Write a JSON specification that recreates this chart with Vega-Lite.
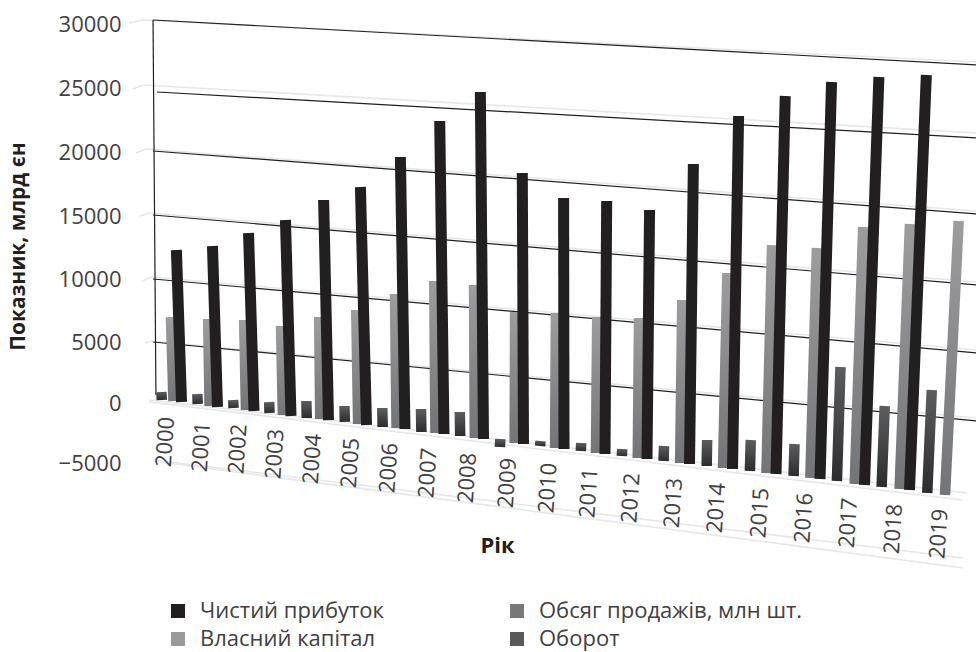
{"$schema":"https://vega.github.io/schema/vega-lite/v6.json","width":976,"height":652,"padding":0,"autosize":{"type":"none"},"background":"white","config":{"view":{"stroke":null},"font":"Open Sans"},
"datasets":{
"bars":[
{"year":2000,"series":"Власний капітал","pos":1999.78,"posEnd":1999.71,"low":165,"high":6984},
{"year":2001,"series":"Власний капітал","pos":2000.78,"posEnd":2000.74,"low":-250,"high":6825},
{"year":2002,"series":"Власний капітал","pos":2001.78,"posEnd":2001.73,"low":-584,"high":6746},
{"year":2003,"series":"Власний капітал","pos":2002.78,"posEnd":2002.73,"low":-1000,"high":6270},
{"year":2004,"series":"Власний капітал","pos":2003.78,"posEnd":2003.75,"low":-1334,"high":6984},
{"year":2005,"series":"Власний капітал","pos":2004.78,"posEnd":2004.73,"low":-1750,"high":7540},
{"year":2006,"series":"Власний капітал","pos":2005.78,"posEnd":2005.74,"low":-2084,"high":8810},
{"year":2007,"series":"Власний капітал","pos":2006.78,"posEnd":2006.75,"low":-2500,"high":9841},
{"year":2008,"series":"Власний капітал","pos":2007.78,"posEnd":2007.76,"low":-2917,"high":9524},
{"year":2009,"series":"Власний капітал","pos":2008.78,"posEnd":2008.79,"low":-3334,"high":7381},
{"year":2010,"series":"Власний капітал","pos":2009.78,"posEnd":2009.80,"low":-3750,"high":7302},
{"year":2011,"series":"Власний капітал","pos":2010.78,"posEnd":2010.81,"low":-4167,"high":6984},
{"year":2012,"series":"Власний капітал","pos":2011.78,"posEnd":2011.81,"low":-4584,"high":6905},
{"year":2013,"series":"Власний капітал","pos":2012.78,"posEnd":2012.83,"low":-5000,"high":8333},
{"year":2014,"series":"Власний капітал","pos":2013.78,"posEnd":2013.88,"low":-5417,"high":10476},
{"year":2015,"series":"Власний капітал","pos":2014.78,"posEnd":2014.91,"low":-5834,"high":12698},
{"year":2016,"series":"Власний капітал","pos":2015.78,"posEnd":2015.93,"low":-6250,"high":12460},
{"year":2017,"series":"Власний капітал","pos":2016.78,"posEnd":2016.97,"low":-6750,"high":14127},
{"year":2018,"series":"Власний капітал","pos":2017.78,"posEnd":2018.01,"low":-7167,"high":14365},
{"year":2019,"series":"Власний капітал","pos":2018.78,"posEnd":2019.08,"low":-7667,"high":14603},
{"year":2000,"series":"Оборот","pos":1999.46,"posEnd":1999.45,"low":246,"high":902},
{"year":2001,"series":"Оборот","pos":2000.45,"posEnd":2000.44,"low":-83,"high":738},
{"year":2002,"series":"Оборот","pos":2001.44,"posEnd":2001.43,"low":-417,"high":246},
{"year":2003,"series":"Оборот","pos":2002.42,"posEnd":2002.41,"low":-833,"high":82},
{"year":2004,"series":"Оборот","pos":2003.42,"posEnd":2003.41,"low":-1250,"high":164},
{"year":2005,"series":"Оборот","pos":2004.43,"posEnd":2004.42,"low":-1583,"high":-250},
{"year":2006,"series":"Оборот","pos":2005.42,"posEnd":2005.41,"low":-2000,"high":-417},
{"year":2007,"series":"Оборот","pos":2006.42,"posEnd":2006.41,"low":-2417,"high":-500},
{"year":2008,"series":"Оборот","pos":2007.41,"posEnd":2007.40,"low":-2750,"high":-750},
{"year":2009,"series":"Оборот","pos":2008.41,"posEnd":2008.42,"low":-3667,"high":-3000},
{"year":2010,"series":"Оборот","pos":2009.41,"posEnd":2009.42,"low":-3583,"high":-3167},
{"year":2011,"series":"Оборот","pos":2010.41,"posEnd":2010.42,"low":-4000,"high":-3333},
{"year":2012,"series":"Оборот","pos":2011.40,"posEnd":2011.41,"low":-4417,"high":-3833},
{"year":2013,"series":"Оборот","pos":2012.39,"posEnd":2012.40,"low":-4833,"high":-3583},
{"year":2014,"series":"Оборот","pos":2013.40,"posEnd":2013.41,"low":-5250,"high":-3083},
{"year":2015,"series":"Оборот","pos":2014.40,"posEnd":2014.42,"low":-5667,"high":-3083},
{"year":2016,"series":"Оборот","pos":2015.40,"posEnd":2015.42,"low":-6083,"high":-3417},
{"year":2017,"series":"Оборот","pos":2016.38,"posEnd":2016.46,"low":-6500,"high":2951},
{"year":2018,"series":"Оборот","pos":2017.38,"posEnd":2017.45,"low":-7000,"high":-250},
{"year":2019,"series":"Оборот","pos":2018.39,"posEnd":2018.49,"low":-7500,"high":1066},
{"year":2000,"series":"Чистий прибуток","pos":2000,"posEnd":1999.86,"low":82,"high":12302},
{"year":2001,"series":"Чистий прибуток","pos":2001,"posEnd":2000.86,"low":-333,"high":12619},
{"year":2002,"series":"Чистий прибуток","pos":2002,"posEnd":2001.85,"low":-667,"high":13651},
{"year":2003,"series":"Чистий прибуток","pos":2003,"posEnd":2002.85,"low":-1083,"high":14683},
{"year":2004,"series":"Чистий прибуток","pos":2004,"posEnd":2003.87,"low":-1417,"high":16250},
{"year":2005,"series":"Чистий прибуток","pos":2005,"posEnd":2004.84,"low":-1833,"high":17266},
{"year":2006,"series":"Чистий прибуток","pos":2006,"posEnd":2005.88,"low":-2167,"high":19609},
{"year":2007,"series":"Чистий прибуток","pos":2007,"posEnd":2006.89,"low":-2583,"high":22422},
{"year":2008,"series":"Чистий прибуток","pos":2008,"posEnd":2007.92,"low":-3000,"high":24688},
{"year":2009,"series":"Чистий прибуток","pos":2009,"posEnd":2008.97,"low":-3417,"high":18359},
{"year":2010,"series":"Чистий прибуток","pos":2010,"posEnd":2009.99,"low":-3833,"high":16406},
{"year":2011,"series":"Чистий прибуток","pos":2011,"posEnd":2011.04,"low":-4250,"high":16172},
{"year":2012,"series":"Чистий прибуток","pos":2012,"posEnd":2012.06,"low":-4667,"high":15469},
{"year":2013,"series":"Чистий прибуток","pos":2013,"posEnd":2013.09,"low":-5083,"high":19063},
{"year":2014,"series":"Чистий прибуток","pos":2014,"posEnd":2014.14,"low":-5500,"high":22813},
{"year":2015,"series":"Чистий прибуток","pos":2015,"posEnd":2015.21,"low":-5917,"high":24375},
{"year":2016,"series":"Чистий прибуток","pos":2016,"posEnd":2016.26,"low":-6333,"high":25469},
{"year":2017,"series":"Чистий прибуток","pos":2017,"posEnd":2017.32,"low":-6833,"high":25859},
{"year":2018,"series":"Чистий прибуток","pos":2018,"posEnd":2018.37,"low":-7250,"high":26016}
],
"lines":[
{"kind":"light","pos":1998.56,"posEnd":1998.945,"low":30078,"high":30312},
{"kind":"light","pos":1998.945,"posEnd":2019.47,"low":30312,"high":27031},
{"kind":"light","pos":1998.67,"posEnd":1998.945,"low":24922,"high":25234},
{"kind":"light","pos":1998.945,"posEnd":2019.47,"low":25234,"high":21484},
{"kind":"light","pos":1998.75,"posEnd":1999.03,"low":19922,"high":20234},
{"kind":"light","pos":1999.03,"posEnd":2019.47,"low":20234,"high":15391},
{"kind":"light","pos":1998.86,"posEnd":1999.14,"low":15000,"high":15234},
{"kind":"light","pos":1999.14,"posEnd":2019.47,"low":15234,"high":9762},
{"kind":"light","pos":1998.92,"posEnd":1999.19,"low":9841,"high":10159},
{"kind":"light","pos":1999.19,"posEnd":2019.47,"low":10159,"high":4344},
{"kind":"light","pos":1999.0,"posEnd":1999.19,"low":4918,"high":5079},
{"kind":"light","pos":1999.19,"posEnd":2019.47,"low":5079,"high":-1250},
{"kind":"light","pos":1999.11,"posEnd":2019.27,"low":246,"high":-7500},
{"kind":"light","pos":1999.11,"posEnd":2019.16,"low":82,"high":-8083},
{"kind":"light","pos":1999.22,"posEnd":2019.18,"low":-4750,"high":-12917},
{"kind":"light","pos":1999.22,"posEnd":2019.18,"low":-4833,"high":-13750},
{"kind":"dark","pos":1999.22,"posEnd":1999.3,"low":30312,"high":656},
{"kind":"dark","pos":1999.22,"posEnd":2019.47,"low":30312,"high":26797},
{"kind":"dark","pos":1999.33,"posEnd":2019.47,"low":24688,"high":21094},
{"kind":"dark","pos":1999.22,"posEnd":2019.47,"low":20078,"high":15156},
{"kind":"dark","pos":1999.22,"posEnd":2019.47,"low":15078,"high":9524},
{"kind":"dark","pos":1999.22,"posEnd":2019.47,"low":10000,"high":4098},
{"kind":"dark","pos":1999.22,"posEnd":2019.47,"low":5000,"high":-1500}
],
"years":[
{"year":"2000","pos":2000,"low":-3250},{"year":"2001","pos":2001,"low":-3667},{"year":"2002","pos":2002,"low":-3833},{"year":"2003","pos":2003,"low":-4250},{"year":"2004","pos":2004,"low":-4667},{"year":"2005","pos":2005,"low":-5000},{"year":"2006","pos":2006,"low":-5417},{"year":"2007","pos":2007,"low":-5833},{"year":"2008","pos":2008,"low":-6250},{"year":"2009","pos":2009,"low":-6667},{"year":"2010","pos":2010,"low":-7083},{"year":"2011","pos":2011,"low":-7500},{"year":"2012","pos":2012,"low":-7917},{"year":"2013","pos":2013,"low":-8333},{"year":"2014","pos":2014,"low":-8750},{"year":"2015","pos":2015,"low":-9167},{"year":"2016","pos":2016,"low":-9583},{"year":"2017","pos":2017,"low":-10000},{"year":"2018","pos":2018,"low":-10500},{"year":"2019","pos":2019,"low":-10917}
]},
"encoding":{
"x":{"field":"pos","type":"quantitative","scale":{"domain":[1995,1999,2000,2001,2002,2003,2004,2005,2006,2007,2008,2009,2010,2011,2012,2013,2014,2015,2016,2017,2018,2019,2020],"range":[0,145,181.5,217.5,254,291,328.5,366.5,405,444,483.5,523.5,564,605,647,689.5,732.5,776,820,864.5,909.5,955,1001],"nice":false,"zero":false},"axis":{"orient":"bottom","title":"Рік","domain":false,"ticks":false,"labels":false,"grid":false,"titleFont":"Open Sans","titleFontSize":22,"titleFontWeight":"bold","titleColor":"#231f20","titleX":497,"titleY":-107,"titleBaseline":"middle"}},
"y":{"field":"low","type":"quantitative","scale":{"domain":[-20750,-5000,0,5000,10000,15000,20000,25000,30000,31875],"range":[652,463,403,342,279,216,152,88,24,0],"nice":false,"zero":false},"axis":{"orient":"left","offset":-130,"values":[-5000,0,5000,10000,15000,20000,25000,30000],"format":"d","domain":false,"ticks":false,"grid":false,"labelPadding":9,"labelFont":"Open Sans","labelFontSize":22,"labelColor":"#414042","title":"Показник, млрд єн","titleFont":"Open Sans","titleFontSize":21,"titleFontWeight":"bold","titleColor":"#231f20","titleX":-112,"titleY":246,"titleAngle":-90,"titleBaseline":"middle"}}
},
"layer":[
{"data":{"name":"lines"},"transform":[{"filter":"datum.kind==='light'"}],"mark":{"type":"rule","stroke":"#e6e7e8","strokeWidth":1.6},"encoding":{"x2":{"field":"posEnd"},"y2":{"field":"high"}}},
{"data":{"name":"lines"},"transform":[{"filter":"datum.kind==='dark'"}],"mark":{"type":"rule","stroke":"#231f20","strokeWidth":1.2},"encoding":{"x2":{"field":"posEnd"},"y2":{"field":"high"}}},
{"data":{"name":"bars"},"mark":{"type":"square","size":0},"encoding":{"color":{"field":"series","type":"nominal","scale":{"domain":["Чистий прибуток","Власний капітал","Обсяг продажів, млн шт.","Оборот"],"range":["#231f20","#9a9a9c","#77787b","#58595b"]},"legend":{"orient":"none","legendX":167,"legendY":600,"columns":2,"title":null,"symbolType":"square","symbolSize":196,"symbolStrokeWidth":0,"symbolOpacity":1,"labelFont":"Open Sans","labelFontSize":22,"labelLimit":400,"labelColor":"#414042","labelOffset":11,"columnPadding":122,"rowPadding":6}}}},
{"data":{"name":"bars"},"transform":[{"filter":"datum.series==='Власний капітал'"}],"mark":{"type":"rule","strokeWidth":10.5,"stroke":{"gradient":"linear","x1":0,"y1":0,"x2":0,"y2":1,"stops":[{"offset":0,"color":"#9d9d9f"},{"offset":1,"color":"#737477"}]}},"encoding":{"x2":{"field":"posEnd"},"y2":{"field":"high"}}},
{"data":{"name":"bars"},"transform":[{"filter":"datum.series==='Оборот'"}],"mark":{"type":"rule","strokeWidth":10.5,"stroke":{"gradient":"linear","x1":0,"y1":0,"x2":0,"y2":1,"stops":[{"offset":0,"color":"#5c5d5f"},{"offset":1,"color":"#2c2c2e"}]}},"encoding":{"x2":{"field":"posEnd"},"y2":{"field":"high"}}},
{"data":{"name":"bars"},"transform":[{"filter":"datum.series==='Чистий прибуток'"}],"mark":{"type":"rule","strokeWidth":11,"stroke":"#231f20"},"encoding":{"x2":{"field":"posEnd"},"y2":{"field":"high"}}},
{"data":{"name":"years"},"mark":{"type":"text","angle":274,"font":"Open Sans","fontSize":22,"fill":"#414042","xOffset":-16,"align":"center","baseline":"middle"},"encoding":{"text":{"field":"year","type":"nominal"}}}
]}
